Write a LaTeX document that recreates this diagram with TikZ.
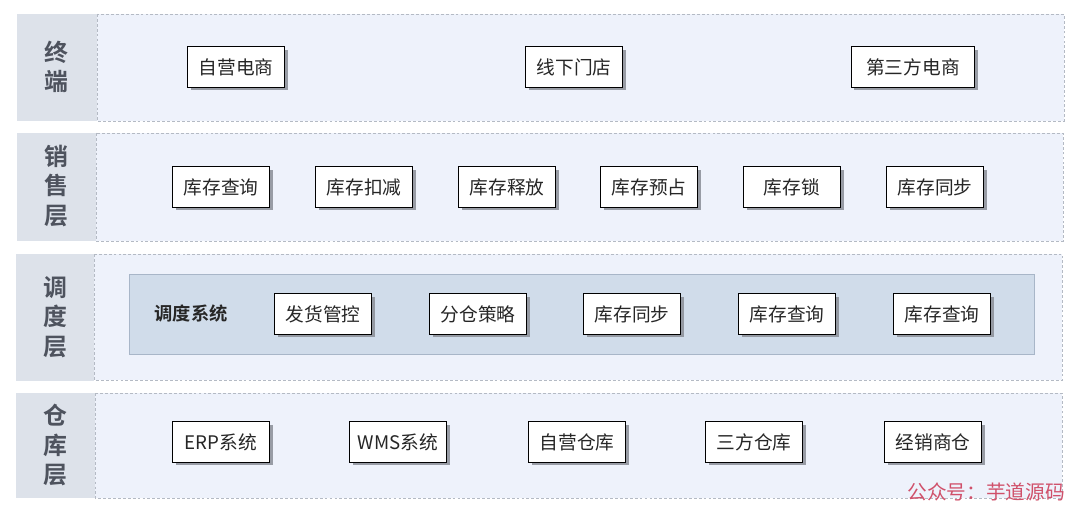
\documentclass[tikz,border=0pt]{standalone}
\usepackage{fontspec}
\setmainfont{Noto Sans CJK SC}[BoldFont={Noto Sans CJK SC Bold}]
\usetikzlibrary{shadows}
\definecolor{labelfill}{HTML}{DDE2EA}
\definecolor{bandfill}{HTML}{EEF2FB}
\definecolor{bandline}{HTML}{B4BAC4}
\definecolor{sysfill}{HTML}{D0DCEA}
\definecolor{sysline}{HTML}{A8B6C8}
\definecolor{labeltext}{HTML}{4E535E}
\definecolor{marktext}{HTML}{D0506A}
\definecolor{shade}{HTML}{8A8E96}
\tikzset{
  layerlabel/.style={fill=labelfill, draw=none},
  band/.style={fill=bandfill, draw=bandline, dashed, line width=0.5pt, dash pattern=on 2pt off 1.5pt},
  sysband/.style={fill=sysfill, draw=sysline, line width=0.6pt},
  item/.style={draw=black, fill=white, line width=0.8pt, minimum width=69pt, minimum height=29pt,
    inner sep=2pt, font=\fontsize{13.3}{15}\selectfont, text=black!85,
    drop shadow={shadow xshift=2.2pt, shadow yshift=-2.2pt, fill=shade, opacity=0.85}},
  wideitem/.style={item, minimum width=88pt},
  labtxt/.style={font=\bfseries\fontsize{17}{21}\selectfont, text=labeltext, align=center}
}
\begin{document}
\begin{tikzpicture}[x=0.025cm, y=-0.025cm]
\useasboundingbox (0,0) rectangle (1080,512);
\fill[white] (0,0) rectangle (1080,512);

% layer bands
\fill[layerlabel] (17,14) rectangle (97,121);
\draw[band] (97,14) rectangle (1064,121);
\fill[layerlabel] (17,133) rectangle (96,241);
\draw[band] (96,133) rectangle (1063,241);
\fill[layerlabel] (16,254) rectangle (94,381);
\draw[band] (94,254) rectangle (1062,380);
\fill[layerlabel] (16,393) rectangle (95,498);
\draw[band] (95,393) rectangle (1062,498);

% layer titles
\node[labtxt] (t1) at (56,67) {终\\端};
\node[labtxt] (t2) at (56,186) {销\\售\\层};
\node[labtxt] (t3) at (55,317) {调\\度\\层};
\node[labtxt] (t4) at (55,445) {仓\\库\\层};

% terminal layer
\node[item] (a1) at (236,67) {自营电商};
\node[item] (a2) at (574,67) {线下门店};
\node[wideitem] (a3) at (913,67) {第三方电商};

% sales layer
\node[item] (b1) at (221,187) {库存查询};
\node[item] (b2) at (364,187) {库存扣减};
\node[item] (b3) at (507,187) {库存释放};
\node[item] (b4) at (649,187) {库存预占};
\node[item] (b5) at (792,187) {库存锁};
\node[item] (b6) at (935,187) {库存同步};

% dispatch layer
\draw[sysband] (129,274) rectangle (1034,354);
\node[font=\bfseries\fontsize{13}{15}\selectfont, text=black!85] (sys) at (191,314) {调度系统};
\node[item] (c1) at (323,314) {发货管控};
\node[item] (c2) at (478,314) {分仓策略};
\node[item] (c3) at (632,314) {库存同步};
\node[item] (c4) at (787,314) {库存查询};
\node[item] (c5) at (942,314) {库存查询};

% warehouse layer
\node[item] (d1) at (221,442) {ERP系统};
\node[item] (d2) at (398,442) {WMS系统};
\node[item] (d3) at (577,442) {自营仓库};
\node[item] (d4) at (754,442) {三方仓库};
\node[item] (d5) at (933,442) {经销商仓};

% footer mark
\node[font=\fontsize{14}{16}\selectfont, text=marktext, anchor=east] (mark) at (1070,492) {公众号：芋道源码};
\end{tikzpicture}
\end{document}
